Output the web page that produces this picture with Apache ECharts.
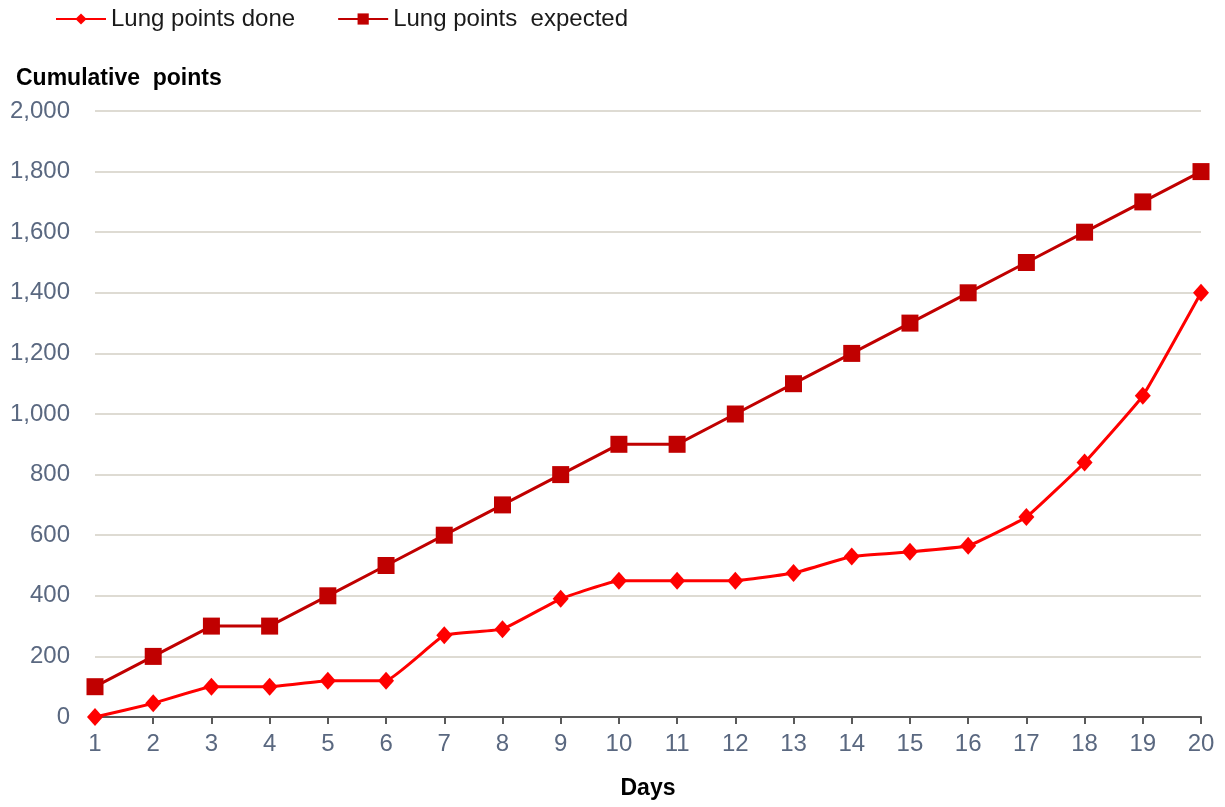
<!DOCTYPE html>
<html><head><meta charset="utf-8">
<script src="https://cdn.jsdelivr.net/npm/echarts@6/dist/echarts.min.js"></script>
<style>html,body{margin:0;padding:0;background:#fff}#c{width:1225px;height:807px}</style>
</head><body><div id="c"></div>
<script>
const days = ['1','2','3','4','5','6','7','8','9','10','11','12','13','14','15','16','17','18','19','20'];
const pointsDone = [0,45,100,100,120,120,270,290,390,450,450,450,475,530,545,565,660,840,1060,1400];
const pointsExpected = [100,200,300,300,400,500,600,700,800,900,900,1000,1100,1200,1300,1400,1500,1600,1700,1800];
const yTicks = {min:0, max:2000, interval:200};

const chart = echarts.init(document.getElementById('c'));
const font = 'Liberation Sans, Arial, sans-serif';
chart.setOption({
  animation:false,
  textStyle:{fontFamily:font},
  title:{text:'Cumulative  points', left:11, top:62, textStyle:{fontSize:23, fontWeight:'bold', color:'#000', fontFamily:font}},
  legend:{left:50, top:2, itemWidth:50, itemHeight:14, itemGap:42,
    textStyle:{fontSize:24, color:'#1a1a1a', fontFamily:font},
    data:['Lung points done','Lung points  expected']},
  grid:{left:95, right:24, top:111, bottom:90},
  xAxis:{type:'category', data:days, boundaryGap:false,
    name:'Days', nameLocation:'middle', nameGap:60,
    nameTextStyle:{fontSize:23, fontWeight:'bold', color:'#000', fontFamily:font},
    axisLine:{lineStyle:{color:'#595959', width:2}},
    axisTick:{show:true, inside:false, length:7, alignWithLabel:true, lineStyle:{color:'#595959', width:2}},
    axisLabel:{fontSize:24, color:'#5a6880', margin:15, fontFamily:font},
    splitLine:{show:false}},
  yAxis:{type:'value', min:yTicks.min, max:yTicks.max, interval:yTicks.interval,
    axisLine:{show:false}, axisTick:{show:false},
    axisLabel:{fontSize:24, color:'#5a6880', margin:25, fontFamily:font,
      formatter:v=>v.toLocaleString('en-US')},
    splitLine:{lineStyle:{color:'#dedbd3', width:2}}},
  series:[
    {name:'Lung points done', type:'line', data:pointsDone, smooth:0.1,
      symbol:'diamond', symbolSize:[16,18], lineStyle:{color:'#ff0000', width:3},
      itemStyle:{color:'#ff0000'}, z:3},
    {name:'Lung points  expected', type:'line', data:pointsExpected,
      symbol:'rect', symbolSize:17, lineStyle:{color:'#c00000', width:3},
      itemStyle:{color:'#c00000'}, z:2}
  ]
});
</script></body></html>
